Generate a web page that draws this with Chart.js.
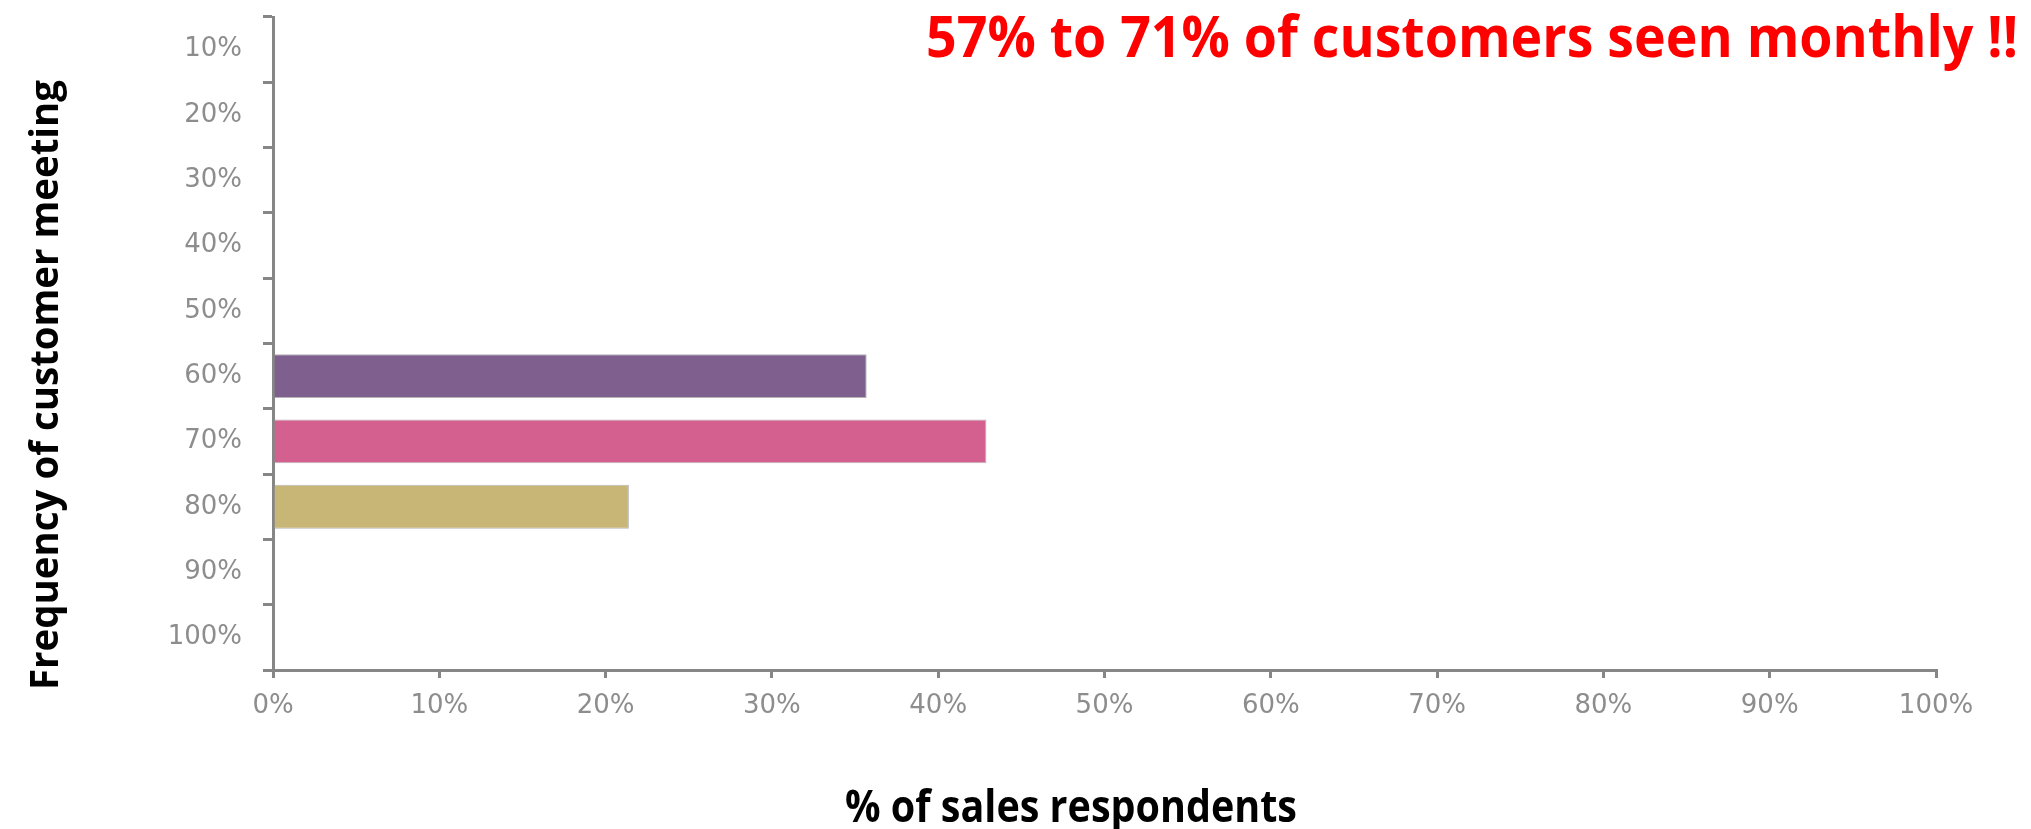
<!DOCTYPE html>
<html>
<head>
<meta charset="utf-8">
<title>Frequency of customer meeting</title>
<script src="https://cdn.jsdelivr.net/npm/chart.js@4.4.1/dist/chart.umd.min.js"></script>
<style>
    body { margin: 0; background: #fff; }
    canvas { display: block; }
</style>
</head>
<body>
<canvas id="meetingChart" width="2031" height="829"></canvas>
<script>
// Meeting frequency buckets, as they are labelled on the axis
const frequencyLabels = ['10%', '20%', '30%', '40%', '50%', '60%', '70%', '80%', '90%', '100%'];

// % of sales respondents in each bucket (5, 6 and 3 out of 14)
const respondentShare = [null, null, null, null, null, 35.7, 42.9, 21.4, null, null];

// Bottom axis ticks (percent)
const shareTicks = [0, 10, 20, 30, 40, 50, 60, 70, 80, 90, 100];

// One colour per bucket
const barColors = ['#7e5f8e', '#7e5f8e', '#7e5f8e', '#7e5f8e', '#7e5f8e',
                   '#7e5f8e', '#d3608e', '#c8b677', '#c8b677', '#c8b677'];

const headline = '57% to 71% of customers seen monthly !!';
const xTitle = '% of sales respondents';
const yTitle = 'Frequency of customer meeting';

const AXIS_GREY = '#868686';
const LABEL_GREY = '#8d8d8d';
const TICK_FONT = { family: "'DejaVu Sans', Verdana, sans-serif", size: 26 };

// Draw a line of text squeezed or stretched to an exact width
function drawFitted(ctx, text, font, color, width) {
    ctx.font = font;
    const w = ctx.measureText(text).width;
    ctx.scale(width / w, 1);
    ctx.fillStyle = color;
    ctx.textAlign = 'left';
    ctx.textBaseline = 'alphabetic';
    ctx.fillText(text, 0, 0);
}

// Headline and axis titles
const titlesPlugin = {
    id: 'titles',
    afterDraw(chart) {
        const ctx = chart.ctx;

        ctx.save();
        ctx.translate(926, 57);
        drawFitted(ctx, headline, "bold 57px 'Open Sans', sans-serif", '#ff0000', 1092);
        ctx.restore();

        ctx.save();
        ctx.translate(845, 822);
        drawFitted(ctx, xTitle, "bold 45px 'Open Sans', sans-serif", '#000000', 452);
        ctx.restore();

        ctx.save();
        ctx.translate(58, 690);
        ctx.rotate(-Math.PI / 2);
        drawFitted(ctx, yTitle, "bold 40px 'Open Sans', sans-serif", '#000000', 610);
        ctx.restore();
    }
};

const ctx = document.getElementById('meetingChart').getContext('2d');

new Chart(ctx, {
    type: 'bar',
    data: {
        labels: frequencyLabels,
        datasets: [
            {
                label: '% of sales respondents',
                data: respondentShare,
                backgroundColor: barColors,
                borderColor: 'rgba(150, 150, 150, 0.7)',
                borderWidth: 1,
                barPercentage: 0.67,
                categoryPercentage: 1
            }
        ]
    },
    options: {
        indexAxis: 'y',
        responsive: false,
        animation: false,
        layout: {
            padding: { top: 17, right: 95, bottom: 0, left: 0 }
        },
        plugins: {
            legend: { display: false },
            tooltip: { enabled: false }
        },
        scales: {
            x: {
                type: 'linear',
                min: 0,
                max: 100,
                afterBuildTicks: scale => {
                    scale.ticks = shareTicks.map(v => ({ value: v }));
                },
                afterFit: scale => {
                    scale.height = 159;
                },
                ticks: {
                    callback: value => value + '%',
                    color: LABEL_GREY,
                    font: TICK_FONT,
                    padding: 13,
                    maxRotation: 0,
                    autoSkip: false
                },
                grid: {
                    drawOnChartArea: false,
                    drawTicks: true,
                    tickLength: 8,
                    color: AXIS_GREY,
                    lineWidth: 3
                },
                border: {
                    color: AXIS_GREY,
                    width: 3
                }
            },
            y: {
                afterFit: scale => {
                    scale.width = 273;
                    // labels sit between ticks, so no overhang above or below
                    scale.paddingTop = 0;
                    scale.paddingBottom = 0;
                },
                ticks: {
                    color: LABEL_GREY,
                    font: TICK_FONT,
                    padding: 21,
                    autoSkip: false
                },
                grid: {
                    offset: true,
                    drawOnChartArea: false,
                    drawTicks: true,
                    tickLength: 10,
                    color: AXIS_GREY,
                    lineWidth: 3
                },
                border: {
                    color: AXIS_GREY,
                    width: 3
                }
            }
        }
    },
    plugins: [titlesPlugin]
});
</script>
</body>
</html>
